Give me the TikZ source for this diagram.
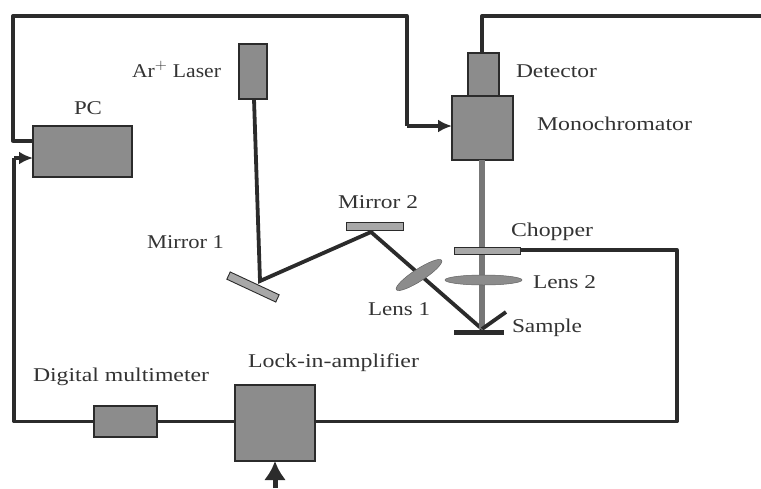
\documentclass[tikz,border=0pt]{standalone}
\usepackage{fontspec}
\usepackage{graphicx}
\setmainfont{Liberation Serif}
\usetikzlibrary{shapes.geometric,arrows.meta}
\definecolor{inkc}{HTML}{2B2B2B}
\definecolor{boxc}{HTML}{8C8C8C}
\definecolor{mirrc}{HTML}{A8A8A8}
\definecolor{textc}{HTML}{333333}
\tikzset{
  unit/.style={draw=inkc,line width=1.1pt,fill=boxc,rectangle,inner sep=0pt,outer sep=0pt},
  thinunit/.style={draw=inkc,line width=0.9pt,fill=mirrc,rectangle,inner sep=0pt,outer sep=0pt},
  lensshape/.style={draw=boxc!70!black,line width=0.5pt,fill=boxc,ellipse,inner sep=0pt,outer sep=0pt},
  wire/.style={draw=inkc,line width=3.3pt,line join=round},
  wirearrow/.style={wire,-{Latex[length=14pt,width=13pt]}},
  beam/.style={draw=inkc,line width=3.8pt},
  graybeam/.style={draw=boxc!85!black,line width=6.5pt},
  lbl/.style={anchor=base west,inner sep=0pt,outer sep=0pt,text=textc,font=\fontsize{19.5}{20}\selectfont}
}
\newcommand{\fitlbl}[2]{\resizebox{#1pt}{\height}{#2}}
\begin{document}
\begin{tikzpicture}[x=1pt,y=-1pt]
\useasboundingbox (0,0) rectangle (761,488);
% instruments
\node[unit,minimum width=28pt,minimum height=55pt] (laser) at (253,71.5) {};
\node[unit,minimum width=99pt,minimum height=51pt] (pc) at (82.5,151.5) {};
\node[unit,minimum width=31pt,minimum height=43pt] (det) at (483.5,74.5) {};
\node[unit,minimum width=61pt,minimum height=64pt] (mono) at (482.5,128) {};
\node[unit,minimum width=63pt,minimum height=31pt] (dmm) at (125.5,421.5) {};
\node[unit,minimum width=80pt,minimum height=76pt] (lock) at (275,423) {};
% free ends and bends
\coordinate (tlA) at (13,141);
\coordinate (tlB) at (13,16);
\coordinate (trA) at (407,16);
\coordinate (trB) at (407,126);
\coordinate (dA) at (482,16);
\coordinate (dEnd) at (761,16);
\coordinate (blA) at (14,421.5);
\coordinate (blB) at (14,158);
\coordinate (crA) at (677,421.5);
\coordinate (crB) at (677,250);
\coordinate (inEnd) at (275,488);
% sample
\coordinate (sampL) at (454,332);
\coordinate (sampR) at (504,332);
\coordinate (spot) at (482,329);
\coordinate (refl) at (506,312);
% optics hit points
\coordinate (hitA) at (260,281);
\coordinate (hitB) at (371,232);
\coordinate (laserOut) at (254,99);
% beams
\draw[beam] (laserOut) -- (hitA) -- (hitB) -- (spot);
\draw[graybeam] (mono.south -| spot) -- (spot);
\draw[beam] (spot) -- (refl);
\draw[draw=inkc,line width=5pt] (sampL) -- (sampR);
% optics
\node[thinunit,minimum width=54pt,minimum height=8pt,rotate=-25] (m1) at (253,287) {};
\node[thinunit,minimum width=57pt,minimum height=8pt] (m2) at (374.5,226) {};
\node[thinunit,minimum width=66pt,minimum height=7pt] (chop) at (487,250.5) {};
\node[lensshape,minimum width=54pt,minimum height=12pt,rotate=33] (l1) at (419,275) {};
\node[lensshape,minimum width=77pt,minimum height=10pt] (l2) at (483.5,280) {};
% connectors
\draw[wire] (pc.west |- tlA) -- (tlA) -- (tlB) -- (trA) -- (trB);
\draw[wirearrow] (trB) -- (mono.west |- trB);
\draw[wire] (det.north -| dA) -- (dA) -- (dEnd);
\draw[wire] (dmm.west) -- (blA) -- (blB);
\draw[wirearrow] (blB) -- (pc.west |- blB);
\draw[wire] (dmm.east) -- (lock.west |- dmm.east);
\draw[wire] (lock.east |- crA) -- (crA) -- (crB) -- (chop.east |- crB);
\draw[draw=inkc,line width=5pt,-{Latex[length=19pt,width=22pt]}] (inEnd) -- (lock.south);
% labels
\node[lbl] (tLaser) at (132,77) {\fitlbl{89}{Ar$^{+}$ Laser}};
\node[lbl] (tPC) at (74,114) {\fitlbl{28}{PC}};
\node[lbl] (tDet) at (516,77) {\fitlbl{81}{Detector}};
\node[lbl] (tMono) at (537,130.5) {\fitlbl{155}{Monochromator}};
\node[lbl] (tM2) at (338,208) {\fitlbl{80}{Mirror 2}};
\node[lbl] (tChop) at (511,236) {\fitlbl{82}{Chopper}};
\node[lbl] (tM1) at (147,248) {\fitlbl{77}{Mirror 1}};
\node[lbl] (tL2) at (533,288) {\fitlbl{63}{Lens 2}};
\node[lbl] (tL1) at (368,315) {\fitlbl{62}{Lens 1}};
\node[lbl] (tSamp) at (512,332) {\fitlbl{70}{Sample}};
\node[lbl] (tLock) at (248,367) {\fitlbl{171}{Lock-in-amplifier}};
\node[lbl] (tDmm) at (33,381) {\fitlbl{176}{Digital multimeter}};
\end{tikzpicture}
\end{document}
